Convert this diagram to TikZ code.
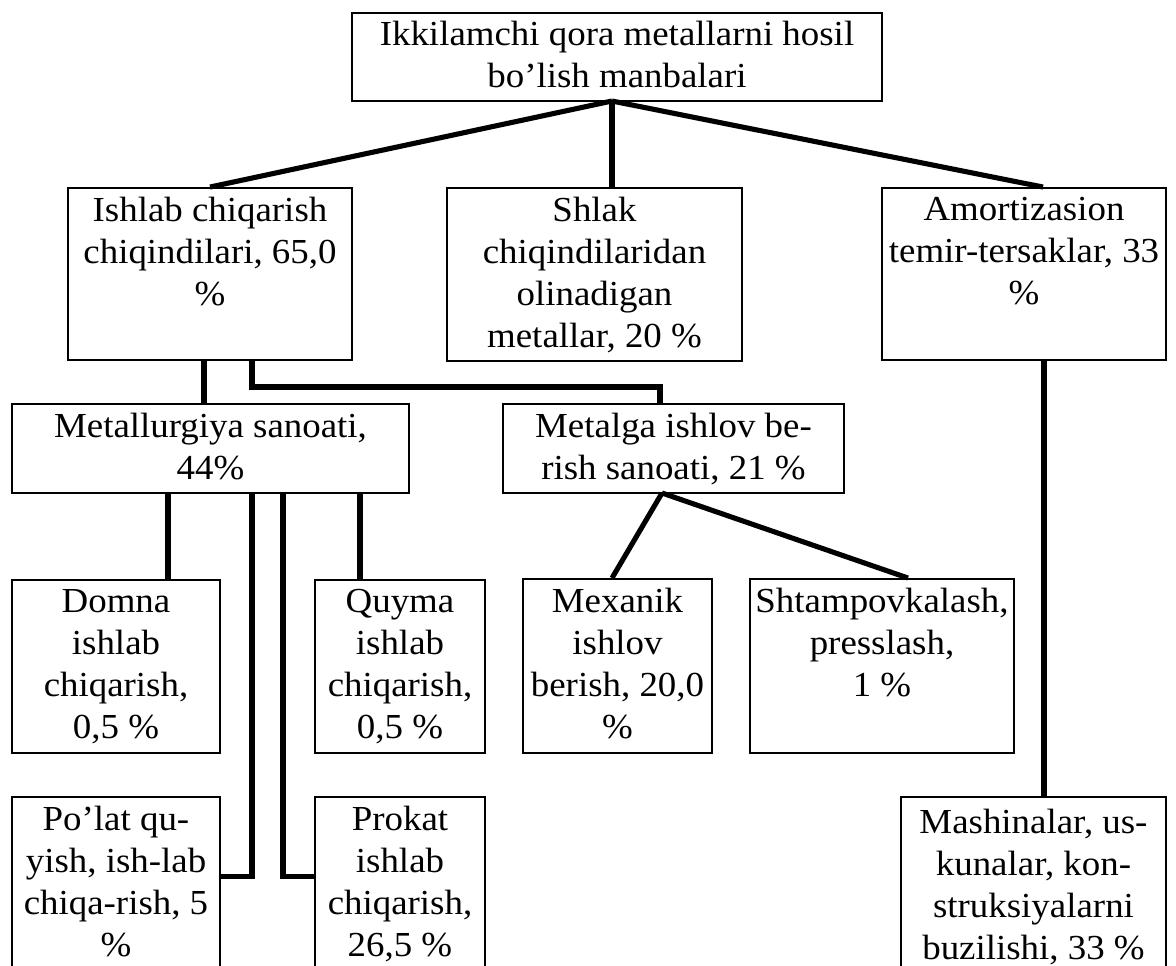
\documentclass[tikz,border=0pt]{standalone}
\usepackage{fontspec}
\setmainfont{Liberation Serif}[FakeStretch=1.05]
\usepackage{tikz}
\usetikzlibrary{fit, calc}

\begin{document}
\begin{tikzpicture}[
    x=0.02cm, y=-0.02cm,
    box/.style={draw, line width=1.1pt, inner sep=0pt},
    txt/.style={align=center, inner sep=0pt, anchor=north, yshift=-0.2cm,
        font=\fontsize{20pt}{23.9pt}\selectfont},
    conn/.style={line width=2.9pt}
]
\clip (0,0) rectangle (1176,965);

% ==================== BOXES ====================
\node[box, fit={(352,13) (882,101)}] (top) {};
\node[box, fit={(68,188) (352,360)}] (ishlab) {};
\node[box, fit={(447,188) (742,361)}] (shlak) {};
\node[box, fit={(882,188) (1166,360)}] (amort) {};

\node[box, fit={(12,404) (409,493)}] (metall) {};
\node[box, fit={(503,404) (844,493)}] (metalga) {};

\node[box, fit={(12,580) (220,753)}] (domna) {};
\node[box, fit={(315,580) (485,753)}] (quyma) {};
\node[box, fit={(523,579) (712,753)}] (mexanik) {};
\node[box, fit={(750,579) (1014,753)}] (shtamp) {};

\node[box, fit={(12,797) (220,985)}] (polat) {};
\node[box, fit={(315,797) (485,985)}] (prokat) {};
\node[box, fit={(901,797) (1166,985)}] (mash) {};

% ==================== TEXTS ====================
\node[txt, yshift=0.02cm] (t-top) at (top.north) {Ikkilamchi qora metallarni hosil\\bo’lish manbalari};
\node[txt] (t-ishlab) at (ishlab.north) {Ishlab chiqarish\\chiqindilari, 65,0\\\%};
\node[txt] (t-shlak) at (shlak.north) {Shlak\\chiqindilaridan\\olinadigan\\metallar, 20 \%};
\node[txt] (t-amort) at (amort.north) {Amortizasion\\temir-tersaklar, 33\\\%};
\node[txt] (t-metall) at (metall.north) {Metallurgiya sanoati,\\44\%};
\node[txt] (t-metalga) at (metalga.north) {Metalga ishlov be-\\rish sanoati, 21 \%};
\node[txt] (t-domna) at (domna.north) {Domna\\ishlab\\chiqarish,\\0,5 \%};
\node[txt] (t-quyma) at (quyma.north) {Quyma\\ishlab\\chiqarish,\\0,5 \%};
\node[txt] (t-mexanik) at (mexanik.north) {Mexanik\\ishlov\\berish, 20,0\\\%};
\node[txt] (t-shtamp) at (shtamp.north) {Shtampovkalash,\\presslash,\\1 \%};
\node[txt] (t-polat) at (polat.north) {Po’lat qu-\\yish, ish-lab\\chiqa-rish, 5\\\%};
\node[txt] (t-prokat) at (prokat.north) {Prokat\\ishlab\\chiqarish,\\26,5 \%};
\node[txt, yshift=-0.06cm] (t-mash) at (mash.north) {Mashinalar, us-\\kunalar, kon-\\struksiyalarni\\buzilishi, 33 \%};

% ==================== CONNECTORS ====================
\coordinate (hub) at (612,101);
\coordinate (ia) at (204,360);
\coordinate (ib) at (252,360);
\coordinate (ma) at (168,493);
\coordinate (mb) at (252,493);
\coordinate (mc) at (283,493);
\coordinate (md) at (360,493);
\coordinate (gh) at (662,493);
\coordinate (ah) at (1044,360);

\draw[conn] (hub) -- (ishlab.north);
\draw[conn] (hub) -- (hub |- shlak.north);
\draw[conn] (hub) -- ($(amort.north)+(19,0)$);

\draw[conn] (ia) -- (ia |- metall.north);
\draw[conn] (ib) -- ++(0,27) -| ($(metalga.north)+(-13.5,0)$);

\draw[conn] (ma) -- (ma |- domna.north);
\draw[conn] (mb) |- ($(polat.north east)+(0,80)$);
\draw[conn] (mc) |- ($(prokat.north west)+(0,80)$);
\draw[conn] (md) -- (md |- quyma.north);

\draw[conn] (gh) -- ($(mexanik.north)+(-5.5,0)$);
\draw[conn] (gh) -- ($(shtamp.north)+(26,0)$);

\draw[conn] (ah) -- (ah |- mash.north);

\end{tikzpicture}
\end{document}
